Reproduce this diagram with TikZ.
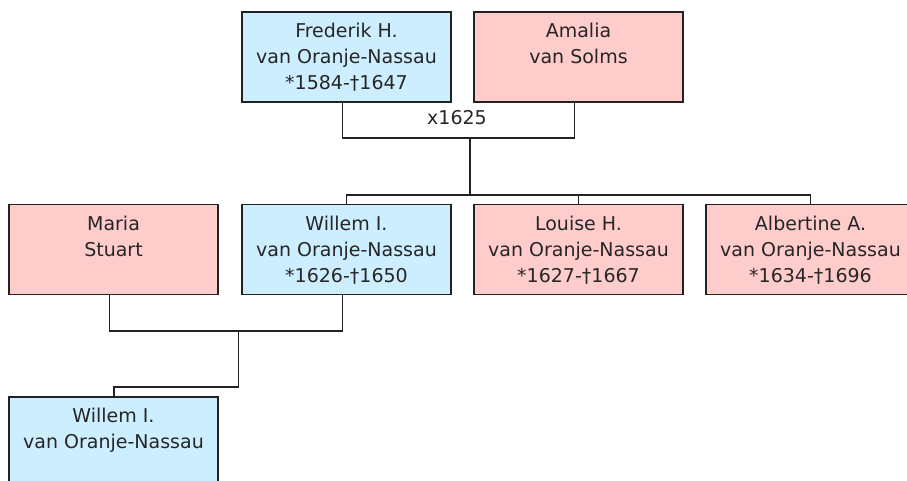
\documentclass[tikz,border=0pt]{standalone}
\usepackage{fontspec}
\setmainfont{DejaVu Sans}
\definecolor{mblue}{HTML}{CCEEFF}
\definecolor{fpink}{HTML}{FFCCCC}
\definecolor{edge}{HTML}{222222}
\newcommand{\fl}{\rule{0pt}{15pt}}
\begin{document}
\begin{tikzpicture}[x=1pt,y=-1pt,
  pbox/.style={draw=edge, line width=1.5pt, minimum width=209pt, minimum height=90pt, inner sep=0pt},
  ptext/.style={font=\fontsize{19pt}{26pt}\selectfont, align=center, inner sep=0pt, anchor=north, text=black!85},
  conn/.style={draw=edge, line width=1.6pt}
]
\useasboundingbox (0,0) rectangle (907,481);
\clip (0,0) rectangle (907,481);
\fill[white] (0,0) rectangle (907,481);

% generation 1
\node[pbox, fill=mblue] (fred) at (346.5,57) {};
\node[ptext] (fredt) at ([yshift=-11.5pt]fred.north) {\fl Frederik H.\\van Oranje-Nassau\\*1584-†1647};
\node[pbox, fill=fpink] (amalia) at (578.5,57) {};
\node[ptext] (amaliat) at ([yshift=-11.5pt]amalia.north) {\fl Amalia\\van Solms};

% generation 2
\node[pbox, fill=fpink] (maria) at (113.5,249.5) {};
\node[ptext] (mariat) at ([yshift=-12pt]maria.north) {\fl Maria\\Stuart};
\node[pbox, fill=mblue] (willem) at (346.5,249.5) {};
\node[ptext] (willemt) at ([yshift=-12pt]willem.north) {\fl Willem I.\\van Oranje-Nassau\\*1626-†1650};
\node[pbox, fill=fpink] (louise) at (578.5,249.5) {};
\node[ptext] (louiset) at ([yshift=-12pt]louise.north) {\fl Louise H.\\van Oranje-Nassau\\*1627-†1667};
\node[pbox, fill=fpink] (albert) at (810.5,249.5) {};
\node[ptext] (albertt) at ([yshift=-12pt]albert.north) {\fl Albertine A.\\van Oranje-Nassau\\*1634-†1696};

% generation 3
\node[pbox, fill=mblue] (kid) at (113.5,442) {};
\node[ptext] (kidt) at ([yshift=-11.5pt]kid.north) {\fl Willem I.\\van Oranje-Nassau};

% marriage 1
\coordinate (m1) at (470,138.3);
\coordinate (s1) at (470,195);
\draw[conn] ([xshift=-4pt]fred.south) |- (m1) -| ([xshift=-4pt]amalia.south);
\node[font=\fontsize{19pt}{26pt}\selectfont, anchor=base, inner sep=0pt, text=black!85] (x1) at (457,125) {x1625};
\draw[conn] (m1) -- (s1);
\draw[conn] (willem.north) -- ++(0,-9) -| (albert.north);
\draw[conn] (louise.north) -- (louise.north |- s1);

% marriage 2
\coordinate (m2) at (238.3,330.7);
\coordinate (d2) at (238.3,386.7);
\draw[conn] ([xshift=-4pt]maria.south) |- (m2) -| ([xshift=-4pt]willem.south);
\draw[conn] (m2) -- (d2) -| ([xshift=0.5pt]kid.north);
\end{tikzpicture}
\end{document}
